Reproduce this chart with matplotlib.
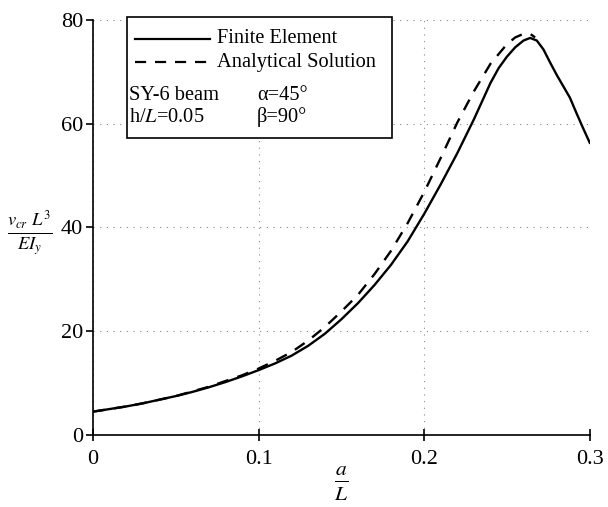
import numpy as np
import matplotlib
matplotlib.use("Agg")
import matplotlib.pyplot as plt
from matplotlib.patches import Rectangle
from matplotlib.lines import Line2D

plt.rcParams['font.family'] = ['Liberation Serif', 'DejaVu Serif']
plt.rcParams['mathtext.fontset'] = 'stix'

# Finite element result (solid)
fe_x = [0.0, 0.01, 0.02, 0.03, 0.04, 0.05, 0.06, 0.07, 0.08, 0.09, 0.10,
        0.11, 0.12, 0.13, 0.14, 0.15, 0.16, 0.17, 0.18, 0.19, 0.20,
        0.21, 0.22, 0.23, 0.235, 0.24, 0.245, 0.25, 0.255, 0.26, 0.264, 0.268,
        0.272, 0.276, 0.28, 0.284, 0.288, 0.292, 0.296, 0.30]
fe_y = [4.5, 5.0, 5.5, 6.1, 6.8, 7.5, 8.3, 9.2, 10.2, 11.3, 12.5,
        13.8, 15.3, 17.2, 19.5, 22.3, 25.4, 28.9, 32.8, 37.3, 42.6,
        48.3, 54.3, 60.8, 64.3, 67.8, 70.7, 72.9, 74.7, 76.0, 76.5, 76.0,
        74.3, 71.8, 69.4, 67.2, 65.0, 62.0, 59.1, 56.3]

# Analytical solution (dashed)
an_x = [0.0, 0.01, 0.02, 0.03, 0.04, 0.05, 0.06, 0.07, 0.08, 0.09, 0.10,
        0.11, 0.12, 0.13, 0.14, 0.15, 0.16, 0.17, 0.18, 0.19, 0.20,
        0.21, 0.22, 0.23, 0.24, 0.25, 0.255, 0.26, 0.2635, 0.267]
an_y = [4.5, 5.0, 5.5, 6.1, 6.8, 7.5, 8.4, 9.3, 10.4, 11.5, 12.8,
        14.3, 16.0, 18.2, 20.8, 23.8, 27.0, 31.0, 35.5, 40.8, 46.8,
        53.4, 60.2, 66.2, 71.5, 75.3, 76.6, 77.3, 77.4, 76.6]

x_ticks = [0, 0.1, 0.2, 0.3]
x_labels = ['0', '0.1', '0.2', '0.3']
y_ticks = [0, 20, 40, 60, 80]

fig = plt.figure(figsize=(6.08, 5.07), dpi=100)
ax = fig.add_axes([0.153, 0.142, 0.817, 0.819])

ax.plot(fe_x, fe_y, color='black', lw=1.7, solid_joinstyle='round')
ax.plot(an_x, an_y, color='black', lw=1.7, ls=(0, (5, 4)))

ax.set_xlim(0, 0.3)
ax.set_ylim(0, 80)
ax.set_xticks(x_ticks)
ax.set_xticklabels(x_labels)
ax.set_yticks(y_ticks)
ax.tick_params(axis='both', labelsize=16, width=1.2, length=5, color='black')
ax.tick_params(axis='x', direction='inout', length=8, pad=7)
ax.tick_params(axis='y', pad=2)
ax.grid(True, ls=(0, (1, 5)), color='#888888', lw=0.8)
ax.spines['top'].set_visible(False)
ax.spines['right'].set_visible(False)
ax.spines['left'].set_linewidth(1.2)
ax.spines['bottom'].set_linewidth(1.2)

ax.set_xlabel(r'$\frac{a}{L}$', fontsize=22, labelpad=-3)
ax.set_ylabel(r'$\frac{v_{cr}\ L^3}{EI_y}$', fontsize=19, rotation=0, va='center')
ax.yaxis.set_label_coords(-0.128, 0.485)

# legend box with the parameters
tr = ax.transAxes
ax.add_patch(Rectangle((0.068, 0.716), 0.534, 0.291, transform=tr, fill=True,
                       fc='white', ec='black', lw=1.2, clip_on=False, zorder=5))
ax.add_line(Line2D([0.085, 0.236], [0.954, 0.954], transform=tr, color='black',
                   lw=1.6, zorder=6))
ax.add_line(Line2D([0.085, 0.236], [0.898, 0.898], transform=tr, color='black',
                   lw=1.6, ls=(0, (5, 4)), zorder=6))
fs = 14.7
ax.text(0.249, 0.954, 'Finite Element', transform=tr, fontsize=fs, va='center', zorder=6)
ax.text(0.249, 0.898, 'Analytical Solution', transform=tr, fontsize=fs, va='center', zorder=6)
ax.text(0.072, 0.818, 'SY-6 beam', transform=tr, fontsize=fs, va='center', zorder=6)
ax.text(0.33, 0.818, '\u03b1=45\u00b0', transform=tr, fontsize=fs, va='center', zorder=6)
ax.text(0.072, 0.765, 'h/$L$=0.05', transform=tr, fontsize=fs, va='center', zorder=6)
ax.text(0.33, 0.765, '\u03b2=90\u00b0', transform=tr, fontsize=fs, va='center', zorder=6)

fig.savefig('out.png', dpi=100)
